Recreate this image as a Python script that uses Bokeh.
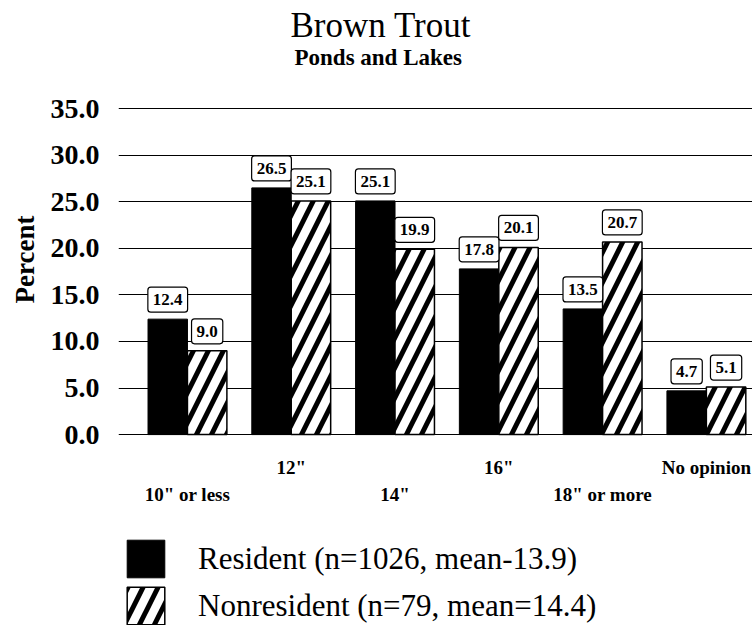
from bokeh.plotting import figure
from bokeh.models import (Range1d, FixedTicker, NumeralTickFormatter,
                          ColumnDataSource, Legend, LegendItem, Title)
from bokeh.transform import dodge
from bokeh.core.properties import value
from bokeh.embed import file_html
from bokeh.resources import INLINE

categories = ['10" or less', '12"', '14"', '16"', '18" or more', 'No opinion']
resident = [12.4, 26.5, 25.1, 17.8, 13.5, 4.7]
nonresident = [9.0, 25.1, 19.9, 20.1, 20.7, 5.1]
y_ticks = [0, 5, 10, 15, 20, 25, 30, 35]
legend_labels = ["Resident (n=1026, mean-13.9)", "Nonresident (n=79, mean=14.4)"]
title_text = "Brown Trout"
subtitle_text = "Ponds and Lakes"
y_label = "Percent"

FONT = "Liberation Serif"
idx = list(range(len(categories)))

src = ColumnDataSource(dict(
    x=idx,
    res=resident,
    non=nonresident,
    res_lbl=[f"{v:.1f}" for v in resident],
    non_lbl=[f"{v:.1f}" for v in nonresident],
))
cat_src = ColumnDataSource(dict(
    x=idx,
    label=categories,
    dy=[33 if i % 2 else 60 for i in idx],   # staggered label rows (screen offset)
))

# frame extends to the bottom of the canvas so that the category labels and the
# legend can sit below the zero line
p = figure(width=752, height=625,
           x_range=Range1d(-0.6644, 5.4445), y_range=Range1d(-20.507, 35.35),
           x_axis_type=None,
           output_backend="svg", toolbar_location=None,
           min_border_left=113, min_border_right=0,
           min_border_top=105, min_border_bottom=0)
p.outline_line_color = None
p.background_fill_color = "white"

# grid
p.xgrid.visible = False
p.ygrid.grid_line_color = "black"
p.ygrid.grid_line_width = 1
p.ygrid.ticker = FixedTicker(ticks=y_ticks)

# y axis
ya = p.yaxis[0]
ya.ticker = FixedTicker(ticks=y_ticks)
ya.formatter = NumeralTickFormatter(format="0.0")
ya.axis_line_color = None
ya.major_tick_line_color = None
ya.minor_tick_line_color = None
ya.major_label_standoff = 13
ya.major_label_text_font = FONT
ya.major_label_text_font_size = "28px"
ya.major_label_text_font_style = "bold"
ya.major_label_text_color = "black"

# y label as a left-side title so it can be positioned along the axis
ylab = Title(text=y_label, align="right", offset=110, standoff=15,
             text_font=FONT, text_font_size="27px", text_font_style="bold", text_color="black")
p.add_layout(ylab, "left")

# bars
bw = 0.38
r_res = p.vbar(x=dodge("x", -0.19, range=p.x_range), top="res", width=bw, source=src,
               fill_color="black", line_color="black", line_width=1)
r_non = p.vbar(x=dodge("x", 0.19, range=p.x_range), top="non", width=bw, source=src,
               fill_color="white", line_color="black", line_width=1.5,
               hatch_pattern="/", hatch_color="black", hatch_weight=5, hatch_scale=30)

# value labels
for col, lbl, off in (("res", "res_lbl", -0.19), ("non", "non_lbl", 0.19)):
    p.text(x=dodge("x", off, range=p.x_range), y=col, text=lbl, source=src,
           text_font=value(FONT), text_font_size="17px", text_font_style="bold",
           text_align="center", text_baseline="bottom", y_offset=-7,
           padding=dict(left=5, right=5, top=7, bottom=7), border_radius=3,
           background_fill_color="white", border_line_color="black", border_line_width=1.2)

# category labels (staggered rows under the zero line)
p.text(x="x", y=0, text="label", source=cat_src, y_offset="dy",
       text_font=value(FONT), text_font_size="19px", text_font_style="bold",
       text_align="center", text_baseline="middle", text_color="black")

# legend
legend = Legend(items=[LegendItem(label=legend_labels[0], renderers=[r_res]),
                       LegendItem(label=legend_labels[1], renderers=[r_non])],
                location=(4, -4), orientation="vertical",
                glyph_width=47, glyph_height=47, label_standoff=29, spacing=0,
                padding=0, margin=0, border_line_color=None, background_fill_alpha=0,
                label_text_font=FONT, label_text_font_size="31px", label_height=47,
                label_text_color="black")
p.add_layout(legend)

# titles (added nearest-to-frame first)
spacer = Title(text=" ", align="left", standoff=21, text_font=FONT, text_font_size="10px")
sub = Title(text=subtitle_text, align="left", offset=176, standoff=0, vertical_align="top",
            text_font=FONT, text_font_size="23px", text_font_style="bold", text_color="black")
main = Title(text=title_text, align="left", offset=172, standoff=0,
             text_font=FONT, text_font_size="35px", text_font_style="normal", text_color="black")
p.add_layout(spacer, "above")
p.add_layout(sub, "above")
p.add_layout(main, "above")

open("out.html", "w").write(file_html(p, INLINE))
